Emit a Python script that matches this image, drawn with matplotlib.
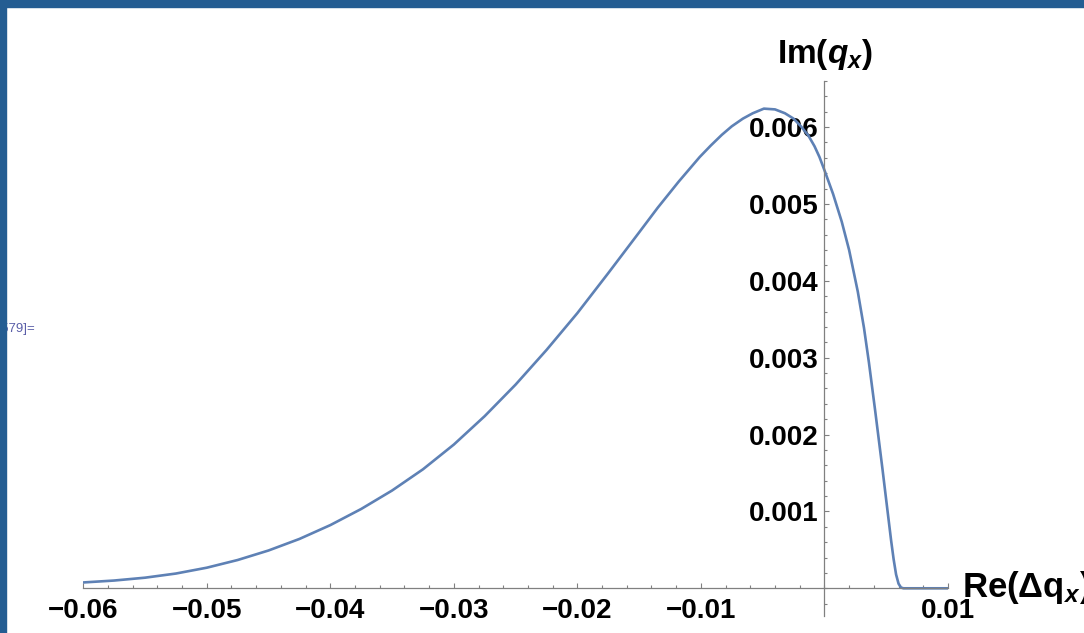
import matplotlib
matplotlib.use("Agg")
import matplotlib.pyplot as plt
from matplotlib.ticker import MultipleLocator, FixedLocator, FixedFormatter
from matplotlib.patches import Rectangle

# Re(dq_x) against Im(q_x)
re_dq = [-0.0600, -0.0575, -0.0550, -0.0525, -0.0500, -0.0475, -0.0450, -0.0425,
         -0.0400, -0.0375, -0.0350, -0.0325, -0.0300, -0.0275, -0.0250, -0.0225,
         -0.0200, -0.0175, -0.0150, -0.0135, -0.0118, -0.0101, -0.0092, -0.0083,
         -0.0075, -0.0066, -0.0058, -0.0049, -0.0040, -0.0032, -0.0025, -0.0019,
         -0.0013, -0.0008, -0.0004, 0.0, 0.0007, 0.0014, 0.0020, 0.0027, 0.0032,
         0.0036, 0.0041, 0.0047, 0.0050, 0.0054, 0.0056, 0.0058, 0.0060, 0.0062,
         0.0064, 0.0070, 0.0080, 0.0090, 0.0100]
im_q = [0.000076, 0.000101, 0.000138, 0.000192, 0.000268, 0.000368, 0.000492,
        0.000642, 0.000822, 0.001032, 0.001272, 0.001548, 0.001870, 0.002240,
        0.002650, 0.003100, 0.003580, 0.004100, 0.004630, 0.004950, 0.005290,
        0.005610, 0.005760, 0.005900, 0.006010, 0.006110, 0.006180, 0.006240,
        0.006230, 0.006180, 0.006110, 0.006010, 0.005890, 0.005750, 0.005610,
        0.005440, 0.005130, 0.004770, 0.004400, 0.003860, 0.003390, 0.002940,
        0.002320, 0.001550, 0.001150, 0.000620, 0.000380, 0.000180, 0.000060,
        0.000010, 0.0, 0.0, 0.0, 0.0, 0.0]

x_ticks = [-0.06, -0.05, -0.04, -0.03, -0.02, -0.01, 0.01]
x_labels = ["\u22120.06", "\u22120.05", "\u22120.04", "\u22120.03", "\u22120.02",
            "\u22120.01", "0.01"]
y_ticks = [0.001, 0.002, 0.003, 0.004, 0.005, 0.006]
y_labels = ["0.001", "0.002", "0.003", "0.004", "0.005", "0.006"]

plt.rcParams['font.family'] = ['Liberation Sans', 'DejaVu Sans']
plt.rcParams['mathtext.fontset'] = 'custom'
plt.rcParams['mathtext.rm'] = 'Liberation Sans:bold'
plt.rcParams['mathtext.bf'] = 'Liberation Sans:bold'
plt.rcParams['mathtext.it'] = 'Liberation Sans:italic:bold'

fig = plt.figure(figsize=(10.84, 6.33), dpi=100)
ax = fig.add_axes([0.0768, 0.0269, 0.7977, 0.8452])

ax.plot(re_dq, im_q, color="#5e81b5", lw=1.9, solid_joinstyle="round")
ax.set_xlim(-0.06, 0.01)
ax.set_ylim(-0.00036, 0.0066)

axis_col = "#808080"
for s in ("top", "right"):
    ax.spines[s].set_visible(False)
for s in ("left", "bottom"):
    ax.spines[s].set_position(("data", 0))
    ax.spines[s].set_color(axis_col)
    ax.spines[s].set_linewidth(0.9)

ax.xaxis.set_major_locator(FixedLocator(x_ticks))
ax.xaxis.set_major_formatter(FixedFormatter(x_labels))
ax.xaxis.set_minor_locator(MultipleLocator(0.002))
ax.yaxis.set_major_locator(FixedLocator(y_ticks))
ax.yaxis.set_major_formatter(FixedFormatter(y_labels))
ax.yaxis.set_minor_locator(MultipleLocator(0.0002))

ax.tick_params(which="both", direction="in", color=axis_col, width=0.8)
ax.tick_params(which="major", length=3.6, labelsize=20)
ax.tick_params(which="minor", length=2.2)
ax.tick_params(axis="x", pad=7)
ax.tick_params(axis="y", pad=4)
for lab in ax.get_xticklabels() + ax.get_yticklabels():
    lab.set_fontweight("bold")

ax.annotate(r"Im($q_x$)", xy=(0, 1), xycoords=("data", "axes fraction"),
            xytext=(0, 13), textcoords="offset points", ha="center", va="baseline",
            fontsize=24, fontweight="bold", annotation_clip=False)
ax.annotate(r"Re($\Delta\mathrm{q}_x$)", xy=(1, 0), xycoords=("axes fraction", "data"),
            xytext=(10, -6.6), textcoords="offset points", ha="left", va="baseline",
            fontsize=25, fontweight="bold", annotation_clip=False)

# cell output label and window frame
fig.text(0.0323, 0.480, "Out[579]=", ha="right", va="center", fontsize=9.5,
         color="#5a5ea8")
fig.patches.append(Rectangle((0, 1 - 6.7 / 633), 1, 6.7 / 633, transform=fig.transFigure,
                             color="#245d92", zorder=10))
fig.patches.append(Rectangle((0, 0), 6 / 1084, 1, transform=fig.transFigure,
                             color="#245d92", zorder=10))

fig.savefig("out.png", dpi=100)
